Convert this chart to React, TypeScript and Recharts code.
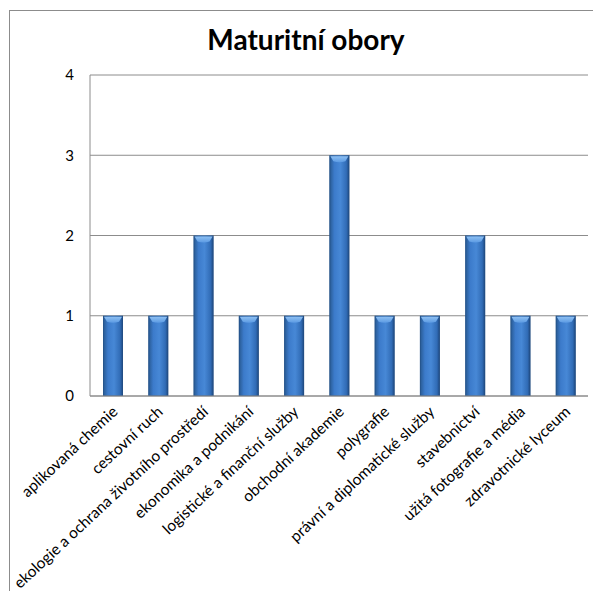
import { Bar, BarChart, CartesianGrid, XAxis, YAxis } from 'recharts';

const obory = [
  'aplikovaná chemie',
  'cestovní ruch',
  'ekologie a ochrana životního prostředí',
  'ekonomika a podnikání',
  'logistické a finanční služby',
  'obchodní akademie',
  'polygrafie',
  'právní a diplomatické služby',
  'stavebnictví',
  'užitá fotografie a média',
  'zdravotnické lyceum',
];
const pocty = [1, 1, 2, 1, 1, 3, 1, 1, 2, 1, 1];
const yTicks = [0, 1, 2, 3, 4];

const data = obory.map((name, i) => ({ name, value: pocty[i] }));

const FONT = 'Lato, "Open Sans", sans-serif';
const AXIS = '#8c8c8c';

function CategoryTick(props: any) {
  const { x, y, payload } = props;
  return (
    <text
      x={x + 6}
      y={y + 9}
      transform={`rotate(-43, ${x + 6}, ${y + 9})`}
      textAnchor="end"
      fontSize={15.5}
      fontFamily={FONT}
      fill="#000"
    >
      {payload.value}
    </text>
  );
}

// glossy cylinder-ish bar like the old Office chart style
function GlossBar(props: any) {
  const { x, y, width, height } = props;
  if (!height) return null;
  const cap = 6;
  return (
    <g>
      <rect x={x} y={y} width={width} height={height} fill="url(#barFill)" />
      <rect x={x + 0.5} y={y + 0.5} width={width - 1} height={height - 1} fill="none" stroke="#244f86" strokeOpacity={0.5} />
      <path
        d={`M${x + 1},${y + 1} L${x + width - 1},${y + 1} L${x + width - 4},${y + cap} Q${x + width / 2},${y + cap + 2} ${x + 4},${y + cap} Z`}
        fill="url(#capFill)"
      />
    </g>
  );
}

export default function App() {
  return (
    <div style={{ position: 'relative', width: 593, height: 591, overflow: 'hidden', background: '#fff' }}>
      <style>{'body{margin:0;overflow:hidden}'}</style>
      <div
        style={{
          position: 'absolute',
          left: 9,
          top: 10,
          width: 600,
          height: 600,
          borderLeft: '1.5px solid #8c8c8c',
          borderTop: '1.5px solid #8c8c8c',
        }}
      />
      <div
        style={{
          position: 'absolute',
          left: 0,
          top: 22,
          width: 612,
          textAlign: 'center',
          fontFamily: FONT,
          fontWeight: 700,
          fontSize: 28,
          color: '#000',
        }}
      >
        Maturitní obory
      </div>
      <div style={{ position: 'absolute', left: 0, top: 0 }}>
        <BarChart
          width={593}
          height={591}
          data={data}
          margin={{ top: 75, right: 5, left: 0, bottom: 0 }}
          barSize={20}
        >
          <defs>
            <linearGradient id="barFill" x1="0" y1="0" x2="1" y2="0">
              <stop offset="0%" stopColor="#27588f" />
              <stop offset="25%" stopColor="#3c7bcb" />
              <stop offset="55%" stopColor="#4788d6" />
              <stop offset="85%" stopColor="#316cb6" />
              <stop offset="100%" stopColor="#1d467c" />
            </linearGradient>
            <linearGradient id="capFill" x1="0" y1="0" x2="0" y2="1">
              <stop offset="0%" stopColor="#8ec0f2" />
              <stop offset="100%" stopColor="#5b9ae3" />
            </linearGradient>
          </defs>
          <CartesianGrid vertical={false} stroke={AXIS} />
          <XAxis
            dataKey="name"
            interval={0}
            height={195}
            tick={<CategoryTick />}
            tickLine={false}
            axisLine={{ stroke: AXIS }}
          />
          <YAxis
            width={90}
            domain={[0, 4]}
            ticks={yTicks}
            tickLine={false}
            tickSize={0}
            tickMargin={16}
            axisLine={{ stroke: AXIS }}
            tick={{ fill: '#000', fontSize: 15, fontFamily: FONT }}
          />
          <Bar dataKey="value" shape={<GlossBar />} isAnimationActive={false} />
        </BarChart>
      </div>
    </div>
  );
}
